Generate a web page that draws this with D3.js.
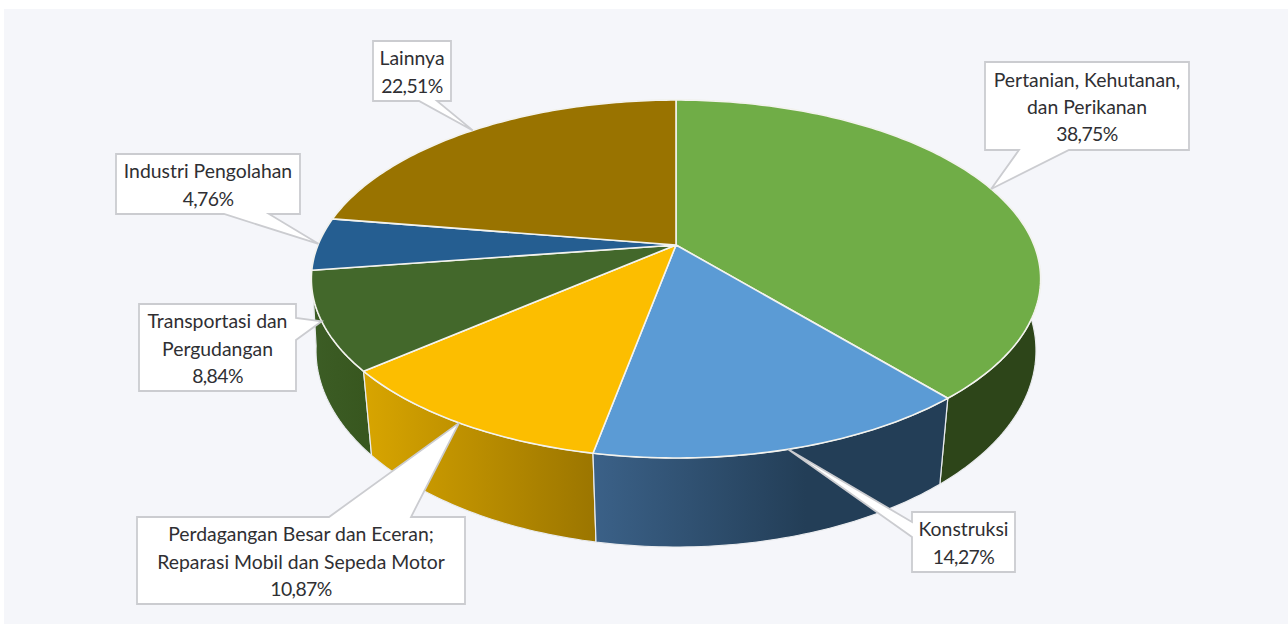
<!DOCTYPE html>
<html>
<head>
<meta charset="utf-8">
<script src="https://cdn.jsdelivr.net/npm/d3@7"></script>
<style>
  html, body { margin: 0; padding: 0; background: #fff; }
  svg { display: block; }
</style>
</head>
<body>
<div id="container"></div>
<script>
let categories = [
  'Pertanian, Kehutanan, dan Perikanan',
  'Konstruksi',
  'Perdagangan Besar dan Eceran; Reparasi Mobil dan Sepeda Motor',
  'Transportasi dan Pergudangan',
  'Industri Pengolahan',
  'Lainnya'
]
let values = [38.75, 14.27, 10.87, 8.84, 4.76, 22.51]
let valueLabels = ['38,75%', '14,27%', '10,87%', '8,84%', '4,76%', '22,51%']

// how each label wraps
let labelLines = [
  ['Pertanian, Kehutanan,', 'dan Perikanan'],
  ['Konstruksi'],
  ['Perdagangan Besar dan Eceran;', 'Reparasi Mobil dan Sepeda Motor'],
  ['Transportasi dan', 'Pergudangan'],
  ['Industri Pengolahan'],
  ['Lainnya']
]

let topColors = ['#70ad47', '#5b9bd5', '#fcbe00', '#43682b', '#255e91', '#997300']
let sideColors = [
  ['#2d4519', '#2d4519'],
  ['#3b6188', '#233e57'],
  ['#d8a500', '#9c7600'],
  ['#3c5d25', '#38571f'],
  ['#1a4266', '#1a4266'],
  ['#6b5100', '#6b5100']
]

// callout boxes: x0, y0, x1, y1 and the two points where the pointer leaves the box
let boxes = [
  {x0: 985, y0: 62, x1: 1189, y1: 150, base: [[1019, 150], [1069, 150]]},
  {x0: 912, y0: 512, x1: 1015, y1: 572, base: [[912, 522], [912, 537]]},
  {x0: 137, y0: 517, x1: 465, y1: 604, base: [[329, 517], [411, 517]]},
  {x0: 139, y0: 304, x1: 296, y1: 391, base: [[296, 318], [296, 340]]},
  {x0: 116, y0: 154, x1: 300, y1: 214, base: [[224, 214], [269, 214]]},
  {x0: 373, y0: 41, x1: 451, y1: 101, base: [[419, 101], [437, 101]]}
]

let svgWidth = 1288
let svgHeight = 624

let svg = d3.select('#container')
  .append('svg')
  .attr('width', svgWidth)
  .attr('height', svgHeight)

svg.append('rect')
  .attr('x', 4).attr('y', 9)
  .attr('width', svgWidth - 4).attr('height', svgHeight - 9)
  .attr('fill', '#f5f6fa')

// perspective projection of a circle, angle is clockwise from 12 o'clock
let cx = 676
let topFace = {cy: 245, a: 172.5, b: 358, k: 0.19}
let bottomFace = {cy: 318, a: 191, b: 355, k: 0.166}

function project(face, angle) {
  let d = 1 + face.k * Math.cos(angle)
  return [cx + face.b * Math.sin(angle) / d, face.cy - face.a * Math.cos(angle) / d]
}

let pie = d3.pie().sort(null).value(d => d)
let slices = pie(values)

function arcPoints(face, s) {
  let n = Math.ceil((s.endAngle - s.startAngle) * 60)
  return d3.range(n + 1).map(i => project(face, s.startAngle + (s.endAngle - s.startAngle) * i / n))
}

let line = d3.line()

let defs = svg.append('defs')
slices.forEach((s, i) => {
  let xs = d3.extent(arcPoints(topFace, s), d => d[0])
  let grad = defs.append('linearGradient')
    .attr('id', 'side' + i)
    .attr('gradientUnits', 'userSpaceOnUse')
    .attr('x1', xs[0]).attr('x2', xs[1])
    .attr('y1', 0).attr('y2', 0)
  // Konstruksi goes flat past the middle
  grad.append('stop').attr('offset', 0).attr('stop-color', sideColors[i][0])
  grad.append('stop').attr('offset', i == 1 ? 0.6 : 1).attr('stop-color', sideColors[i][1])
})

// sides back to front, the top faces paint over whatever is behind
let sides = svg.append('g')
let sideOrder = slices
  .map((s, i) => ({s: s, i: i}))
  .sort((a, b) => Math.cos((b.s.startAngle + b.s.endAngle) / 2) - Math.cos((a.s.startAngle + a.s.endAngle) / 2))

sides.selectAll('path')
  .data(sideOrder)
  .enter()
  .append('path')
  .attr('d', d => line(arcPoints(topFace, d.s).concat(arcPoints(bottomFace, d.s).reverse())) + 'Z')
  .attr('fill', d => 'url(#side' + d.i + ')')
  .attr('stroke', '#e9ebee')
  .attr('stroke-width', 1.2)
  .attr('stroke-linejoin', 'round')

let tops = svg.append('g')
tops.selectAll('path')
  .data(slices)
  .enter()
  .append('path')
  .attr('d', s => line([[cx, topFace.cy]].concat(arcPoints(topFace, s))) + 'Z')
  .attr('fill', (s, i) => topColors[i])
  .attr('stroke', '#f3f3ee')
  .attr('stroke-width', 1.6)
  .attr('stroke-linejoin', 'round')

// callouts, the pointer tip sits on the rim at the middle of the slice
function calloutPath(b, tip) {
  let corners = [[b.x0, b.y0], [b.x1, b.y0], [b.x1, b.y1], [b.x0, b.y1]]
  let pts
  if (b.base[0][1] == b.y1 && b.base[1][1] == b.y1) {
    pts = [corners[0], corners[1], corners[2], b.base[1], tip, b.base[0], corners[3]]
  } else if (b.base[0][1] == b.y0 && b.base[1][1] == b.y0) {
    pts = [corners[0], b.base[0], tip, b.base[1], corners[1], corners[2], corners[3]]
  } else if (b.base[0][0] == b.x1) {
    pts = [corners[0], corners[1], b.base[0], tip, b.base[1], corners[2], corners[3]]
  } else {
    pts = [corners[0], corners[1], corners[2], corners[3], b.base[1], tip, b.base[0]]
  }
  return line(pts) + 'Z'
}

let labels = svg.append('g')
  .selectAll('g')
  .data(slices)
  .enter()
  .append('g')

labels.append('path')
  .attr('d', (s, i) => calloutPath(boxes[i], project(topFace, (s.startAngle + s.endAngle) / 2)))
  .attr('fill', '#fff')
  .attr('stroke', '#cbccd0')
  .attr('stroke-width', 1.8)

labels.each(function(s, i) {
  let b = boxes[i]
  let rows = labelLines[i].concat([valueLabels[i]])
  let lineHeight = 27.2
  let midY = (b.y0 + b.y1) / 2
  d3.select(this).selectAll('text')
    .data(rows)
    .enter()
    .append('text')
    .attr('x', (b.x0 + b.x1) / 2)
    .attr('y', (d, j) => midY + (j - (rows.length - 1) / 2) * lineHeight + 8)
    .attr('text-anchor', 'middle')
    .attr('font-family', 'Lato, "Open Sans", sans-serif')
    .attr('font-size', 19.4)
    .attr('letter-spacing', (d, j) => j == rows.length - 1 ? -0.6 : 0)
    .attr('fill', '#2f2f33')
    .text(d => d)
})
</script>
</body>
</html>
